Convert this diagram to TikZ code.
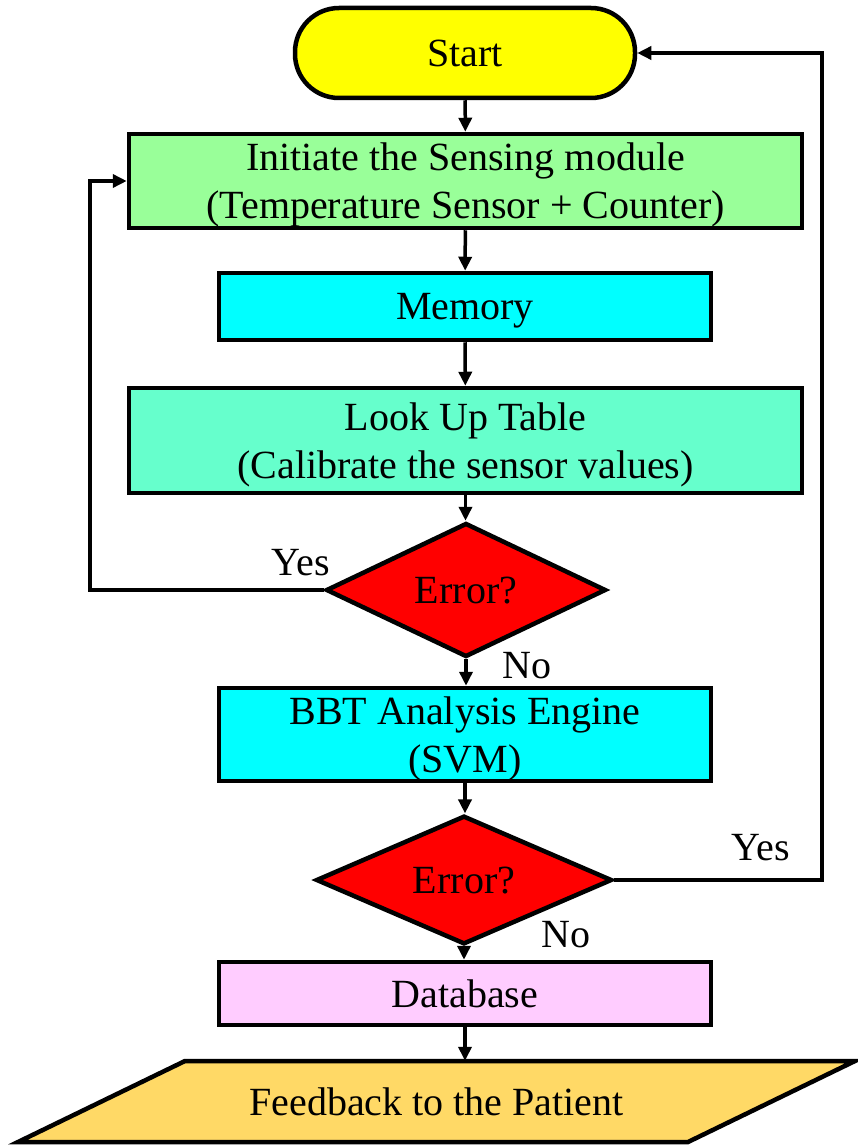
\documentclass[tikz,border=0pt]{standalone}
\usepackage{fontspec}
\setmainfont{Liberation Serif}
\usetikzlibrary{shapes.geometric,arrows.meta}

\definecolor{startyellow}{HTML}{FFFF00}
\definecolor{sensegreen}{HTML}{99FF99}
\definecolor{memcyan}{HTML}{00FFFF}
\definecolor{lutaqua}{HTML}{66FFCC}
\definecolor{errred}{HTML}{FF0000}
\definecolor{dbpink}{HTML}{FFCCFF}
\definecolor{fbgold}{HTML}{FFD966}

\tikzset{
  txt/.style={font=\fontsize{40}{48}\selectfont},
  box/.style={txt, draw=black, line width=4.5pt, rectangle, inner sep=0pt, align=center, text depth=0pt},
  terminal/.style={box, rounded corners=44pt, minimum width=340pt, minimum height=90pt},
  decision/.style={txt, draw=black, line width=4.5pt, diamond, inner sep=0pt, text depth=0pt, fill=errred},
  flow/.style={line width=3.5pt, -{Triangle[length=14pt,width=13pt]}},
  lbl/.style={txt, inner sep=0pt}
}

\begin{document}
\begin{tikzpicture}[x=1pt,y=-1pt]
\useasboundingbox (0,0) rectangle (857,1145);

% process steps
\node[terminal, fill=startyellow] (start) at (465,53) {Start};
\node[box, fill=sensegreen, minimum width=673pt, minimum height=94pt] (init) at (465.5,181)
  {Initiate the Sensing module\\(Temperature Sensor + Counter)};
\node[box, fill=memcyan, minimum width=492pt, minimum height=67pt] (mem) at (465,306.5) {Memory};
\node[box, fill=lutaqua, minimum width=673pt, minimum height=105pt] (lut) at (465.5,440.5)
  {Look Up Table\\(Calibrate the sensor values)};
\node[decision, minimum width=280pt, minimum height=134pt] (d1) at (466,590) {Error?};
\node[box, fill=memcyan, minimum width=492pt, minimum height=93pt] (bbt) at (465,734.5)
  {BBT Analysis Engine\\(SVM)};
\node[decision, minimum width=296pt, minimum height=104pt] (d2) at (464,880) {Error?};
\node[box, fill=dbpink, minimum width=492pt, minimum height=63pt] (db) at (465,993.5) {Database};

% output parallelogram
\fill[fbgold, draw=black, line width=4.5pt, line join=miter]
  (185,1061) -- (855,1061) -- (688,1142) -- (18,1142) -- cycle;
\node[txt, minimum width=500pt, minimum height=81pt, inner sep=0pt, text depth=0pt] (fb) at (436.5,1101.5)
  {Feedback to the Patient};

% main flow
\draw[flow] (start) -- (init);
\draw[flow] (init) -- (mem);
\draw[flow] (mem) -- (lut);
\draw[flow] (lut.south) -- (lut.south |- d1.north);
\draw[flow] (d1.south) -- (d1.south |- bbt.north);
\draw[flow] (bbt) -- (bbt.south |- d2.north);
\draw[flow] (d2.south) -- (d2.south |- db.north);
\draw[flow] (db) -- (db.south |- fb.north);

% feedback loops
\coordinate (lloop) at (90,590);
\coordinate (rloop) at (822,880);
\draw[flow] (d1.west) -- (lloop) |- (init.west);
\draw[flow] (d2.east) -- (rloop) |- (start.east);

% branch labels
\node[lbl] (yes1) at (301,563) {Yes};
\node[lbl] (no1) at (527,666) {No};
\node[lbl] (yes2) at (761,848) {Yes};
\node[lbl] (no2) at (566,935) {No};
\end{tikzpicture}
\end{document}
